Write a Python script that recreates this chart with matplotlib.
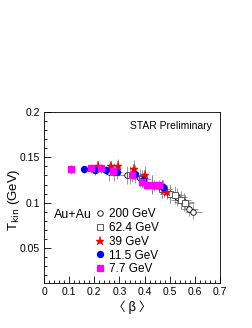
import matplotlib
matplotlib.use("Agg")
import matplotlib.pyplot as plt
from matplotlib.ticker import MultipleLocator

plt.rcParams['font.family'] = ['Liberation Sans', 'DejaVu Sans']

# --- data ---
x200 = [0.26, 0.33, 0.38, 0.43, 0.47, 0.50, 0.53, 0.555, 0.578, 0.594]
y200 = [0.134, 0.131, 0.127, 0.120, 0.115, 0.110, 0.106, 0.101, 0.093, 0.090]
xe200 = [0.03, 0.035, 0.035, 0.04, 0.04, 0.04, 0.04, 0.04, 0.035, 0.035]
ye200 = [0.010, 0.010, 0.010, 0.010, 0.010, 0.010, 0.010, 0.010, 0.008, 0.008]

x62 = [0.28, 0.34, 0.39, 0.43, 0.47, 0.50, 0.52, 0.545, 0.56]
y62 = [0.134, 0.131, 0.126, 0.120, 0.115, 0.110, 0.108, 0.103, 0.100]
xe62 = [0.03, 0.035, 0.035, 0.04, 0.04, 0.04, 0.04, 0.04, 0.035]
ye62 = [0.010, 0.010, 0.010, 0.010, 0.010, 0.010, 0.010, 0.010, 0.008]

x39 = [0.216, 0.266, 0.296, 0.358, 0.403, 0.477, 0.488]
y39 = [0.140, 0.140, 0.140, 0.137, 0.130, 0.114, 0.112]
ye39 = [0.006, 0.006, 0.008, 0.010, 0.010, 0.008, 0.008]

x11 = [0.160, 0.204, 0.245, 0.292, 0.363, 0.395, 0.472]
y11 = [0.137, 0.136, 0.136, 0.134, 0.132, 0.125, 0.117]
ye11 = [0.004, 0.005, 0.005, 0.008, 0.010, 0.008, 0.008]

x77 = [0.106, 0.186, 0.225, 0.276, 0.349, 0.391, 0.411, 0.437, 0.459]
y77 = [0.137, 0.138, 0.138, 0.135, 0.131, 0.123, 0.120, 0.119, 0.119]
ye77 = [0.005, 0.005, 0.005, 0.006, 0.008, 0.006, 0.006, 0.006, 0.006]

labels = ["200 GeV", "62.4 GeV", "39 GeV", "11.5 GeV", "7.7 GeV"]

fig = plt.figure(figsize=(2.53, 3.28), dpi=100)
ax = fig.add_axes([0.174, 0.137, 0.696, 0.521])

ecol = '#888888'
ax.errorbar(x200, y200, xerr=xe200, yerr=ye200, fmt='none', ecolor=ecol, elinewidth=0.6, capsize=0, zorder=1)
ax.errorbar(x62, y62, xerr=xe62, yerr=ye62, fmt='none', ecolor=ecol, elinewidth=0.6, capsize=0, zorder=1)
ax.errorbar(x39, y39, yerr=ye39, fmt='none', ecolor=ecol, elinewidth=0.6, zorder=1)
ax.errorbar(x11, y11, yerr=ye11, fmt='none', ecolor=ecol, elinewidth=0.6, zorder=1)
ax.errorbar(x77, y77, yerr=ye77, fmt='none', ecolor=ecol, elinewidth=0.6, zorder=1)

h1, = ax.plot(x200, y200, 'o', ms=4, mfc='white', mec='black', mew=0.6, ls='none', zorder=2)
h2, = ax.plot(x62, y62, 's', ms=3.8, mfc='white', mec='#444444', mew=0.6, ls='none', zorder=2)
h3, = ax.plot(x39, y39, '*', ms=6.5, color='red', mec='#cc0000', mew=0.3, ls='none', zorder=3)
h4, = ax.plot(x11, y11, 'o', ms=4.3, color='blue', mec='blue', ls='none', zorder=4)
h5, = ax.plot(x77, y77, 's', ms=4.3, color='#ff00ff', mec='#ff00ff', ls='none', zorder=5)

ax.set_xlim(0, 0.7)
ax.set_ylim(0.011, 0.2)
ax.xaxis.set_minor_locator(MultipleLocator(0.02))
ax.yaxis.set_minor_locator(MultipleLocator(0.01))
ax.tick_params(which='both', direction='in', labelsize=7.5, width=0.6)
ax.tick_params(which='major', length=5, pad=3)
ax.tick_params(which='minor', length=2.5)
ax.set_xticks([0, 0.1, 0.2, 0.3, 0.4, 0.5, 0.6, 0.7])
ax.set_xticklabels(['0', '0.1', '0.2', '0.3', '0.4', '0.5', '0.6', '0.7'])
ax.set_yticks([0.05, 0.1, 0.15, 0.2])
ax.set_yticklabels(['0.05', '0.1', '0.15', '0.2'])
for s in ax.spines.values():
    s.set_linewidth(0.6)

ax.set_xlabel('\u3008 \u03b2 \u3009', fontsize=9, labelpad=2,
              family=['Noto Sans CJK JP', 'DejaVu Sans'])
ax.set_ylabel(r'T$_{\rm kin}$ (GeV)', fontsize=9.5)
ax.yaxis.set_label_coords(-0.125, 0.485)

ax.text(0.955, 0.918, 'STAR Preliminary', transform=ax.transAxes, ha='right', va='center', fontsize=7.5)
ax.text(0.057, 0.40, 'Au+Au', transform=ax.transAxes, ha='left', va='center', fontsize=9)

ax.legend([h1, h2, h3, h4, h5], labels, loc='upper left', bbox_to_anchor=(0.29, 0.44),
          frameon=False, fontsize=8.5, handlelength=0.8, handletextpad=0.35,
          labelspacing=0.16, borderpad=0, borderaxespad=0)

fig.savefig('out.png', dpi=100)
